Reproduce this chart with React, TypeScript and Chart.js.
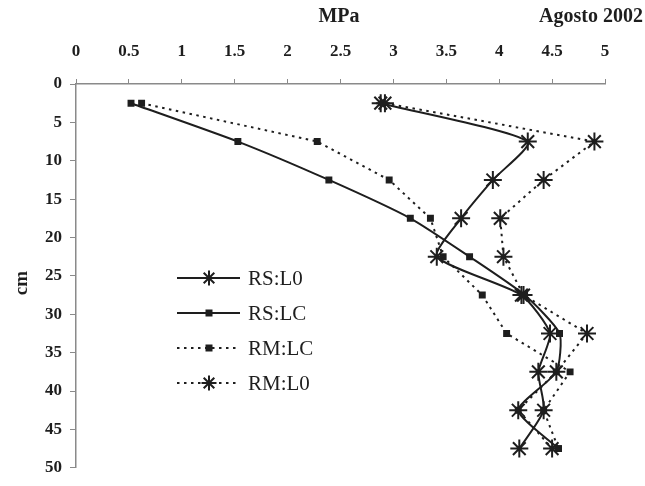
import React, { useEffect, useRef } from "react";
import { Chart, registerables } from "chart.js";

Chart.register(...registerables);

const depths = [2.5, 7.5, 12.5, 17.5, 22.5, 27.5, 32.5, 37.5, 42.5, 47.5];
const rsL0 = [2.88, 4.27, 3.94, 3.64, 3.41, 4.21, 4.48, 4.37, 4.42, 4.19];
const rsLC = [0.52, 1.53, 2.39, 3.16, 3.72, 4.24, 4.57, 4.54, 4.18, 4.56];
const rmLC = [0.62, 2.28, 2.96, 3.35, 3.47, 3.84, 4.07, 4.67, 4.42, 4.56];
const rmL0 = [2.92, 4.9, 4.42, 4.01, 4.04, 4.23, 4.83, 4.54, 4.18, 4.5];
const seriesNames = ["RS:L0", "RS:LC", "RM:LC", "RM:L0"];
const xTitle = "MPa";
const yTitle = "cm";
const dateLabel = "Agosto 2002";

const INK = "#1e1e1e";
const AXIS = "#8a8a8a";
const SERIF = "'Liberation Serif', 'Times New Roman', serif";
const DOTS = [2.5, 4.5];

type Style = { dashed: boolean; point: string; radius: number; tension: number };
const styles: Style[] = [
  { dashed: false, point: "star", radius: 9, tension: 0.2 },
  { dashed: false, point: "rect", radius: 3.5, tension: 0.2 },
  { dashed: true, point: "rect", radius: 3.5, tension: 0 },
  { dashed: true, point: "star", radius: 9, tension: 0 },
];

function drawMarker(ctx: CanvasRenderingContext2D, kind: string, r: number, x: number, y: number) {
  ctx.save();
  ctx.strokeStyle = INK;
  ctx.fillStyle = INK;
  ctx.lineWidth = 2;
  if (kind === "rect") {
    ctx.fillRect(x - r, y - r, 2 * r, 2 * r);
  } else {
    ctx.beginPath();
    const d = r * Math.SQRT1_2;
    ctx.moveTo(x - r, y);
    ctx.lineTo(x + r, y);
    ctx.moveTo(x, y - r);
    ctx.lineTo(x, y + r);
    ctx.moveTo(x - d, y - d);
    ctx.lineTo(x + d, y + d);
    ctx.moveTo(x - d, y + d);
    ctx.lineTo(x + d, y - d);
    ctx.stroke();
  }
  ctx.restore();
}

const overlay = {
  id: "overlay",
  afterDraw(chart: any) {
    const ctx = chart.ctx as CanvasRenderingContext2D;
    ctx.save();
    ctx.fillStyle = INK;
    ctx.font = `bold 20px ${SERIF}`;
    ctx.textBaseline = "middle";
    ctx.textAlign = "center";
    ctx.fillText(xTitle, 339, 17);
    ctx.textAlign = "right";
    ctx.fillText(dateLabel, 643, 17);
    ctx.save();
    ctx.translate(22, 283);
    ctx.rotate(-Math.PI / 2);
    ctx.textAlign = "center";
    ctx.font = `bold 19px ${SERIF}`;
    ctx.fillText(yTitle, 0, 0);
    ctx.restore();

    const rows = [278, 313, 348, 383];
    chart.data.datasets.forEach((ds: any, i: number) => {
      const y = rows[i];
      const st = styles[i];
      ctx.strokeStyle = INK;
      ctx.lineWidth = 2;
      ctx.setLineDash(st.dashed ? DOTS : []);
      ctx.beginPath();
      ctx.moveTo(177, y);
      ctx.lineTo(240, y);
      ctx.stroke();
      ctx.setLineDash([]);
      drawMarker(ctx, st.point, st.point === "star" ? 7.5 : 3.5, 209, y);
      ctx.fillStyle = INK;
      ctx.font = `21px ${SERIF}`;
      ctx.textAlign = "left";
      ctx.textBaseline = "middle";
      ctx.fillText(ds.label, 248, y + 1);
    });
    ctx.restore();
  },
};

export default function App() {
  const ref = useRef<HTMLCanvasElement>(null);
  useEffect(() => {
    if (!ref.current) return;
    const all = [rsL0, rsLC, rmLC, rmL0];
    const chart = new Chart(ref.current, {
      type: "line",
      data: {
        datasets: all.map((vals, i) => ({
          label: seriesNames[i],
          data: vals.map((v, j) => ({ x: v, y: depths[j] })),
          borderColor: INK,
          backgroundColor: INK,
          borderWidth: 2,
          borderDash: styles[i].dashed ? DOTS : [],
          pointStyle: styles[i].point as any,
          pointRadius: styles[i].radius,
          pointBorderWidth: 2,
          pointBorderColor: INK,
          pointBackgroundColor: INK,
          tension: styles[i].tension,
          fill: false,
        })),
      },
      options: {
        animation: false,
        responsive: false,
        maintainAspectRatio: false,
        layout: { padding: { left: 0, top: 0, right: 40, bottom: 9 } },
        plugins: { legend: { display: false }, tooltip: { enabled: false }, title: { display: false } },
        scales: {
          x: {
            type: "linear",
            position: "top",
            min: 0,
            max: 5,
            ticks: {
              stepSize: 0.5,
              color: INK,
              font: { family: SERIF, size: 17, weight: "bold" },
              padding: 17,
              maxRotation: 0,
              callback: (v: any) => String(Number(v)),
            },
            grid: { drawOnChartArea: false, drawTicks: true, tickLength: 5, color: AXIS },
            border: { color: AXIS, width: 1.5 },
            afterFit: (s: any) => {
              s.height = 84;
            },
          },
          y: {
            type: "linear",
            reverse: true,
            min: 0,
            max: 50,
            ticks: {
              stepSize: 5,
              color: INK,
              font: { family: SERIF, size: 17, weight: "bold" },
              padding: 8,
            },
            grid: { drawOnChartArea: false, drawTicks: true, tickLength: 6, color: AXIS },
            border: { color: AXIS, width: 1.5 },
            afterFit: (s: any) => {
              s.width = 76;
            },
          },
        },
      },
      plugins: [overlay],
    });
    return () => chart.destroy();
  }, []);
  return (
    <div style={{ position: "fixed", left: 0, top: 0, width: 645, height: 486, background: "#fff" }}>
      <canvas ref={ref} width={645} height={486} style={{ width: 645, height: 486, display: "block" }} />
    </div>
  );
}
